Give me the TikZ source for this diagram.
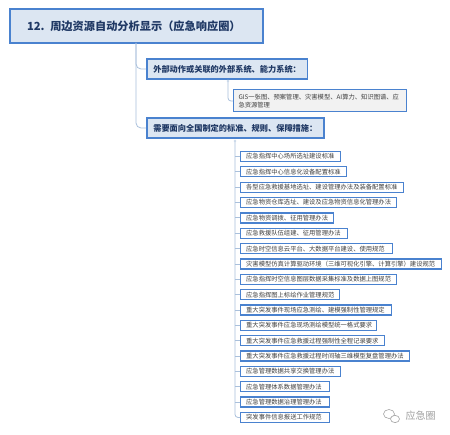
\documentclass[tikz,border=0pt]{standalone}
\usepackage{fontspec}
\setmainfont{Noto Sans CJK SC}
\definecolor{bordblue}{HTML}{4A82CF}
\definecolor{boxfill}{HTML}{DCE6F2}
\definecolor{gisfill}{HTML}{F2F2F2}
\definecolor{navy}{HTML}{1F3864}
\definecolor{conncol}{HTML}{A9C0DC}
\definecolor{leaftext}{HTML}{404040}
\definecolor{wmgray}{HTML}{A0A0A0}
\tikzset{
  titlebox/.style={draw=bordblue, line width=2.2pt, fill=boxfill, text=navy,
    font=\fontsize{11.2}{13}\selectfont\bfseries, inner xsep=17pt, inner ysep=0pt,
    minimum height=34pt, text width=219pt, align=left, anchor=north west},
  lvlbox/.style={draw=bordblue, line width=1.6pt, fill=boxfill, text=navy,
    font=\fontsize{8.2}{10}\selectfont\bfseries, inner xsep=6.5pt, inner ysep=0pt,
    minimum height=20pt, anchor=west},
  gisbox/.style={draw=bordblue, line width=1pt, fill=gisfill, text=leaftext,
    font=\fontsize{6.3}{8.6}\selectfont, inner xsep=5pt, inner ysep=0pt,
    minimum height=22pt, text width=163pt, align=left, anchor=west},
  leafbox/.style={draw=bordblue, line width=1.3pt, fill=white, text=leaftext,
    font=\fontsize{6.3}{7}\selectfont, inner xsep=5.5pt, inner ysep=0pt,
    minimum height=10pt, anchor=west},
  conn/.style={draw=conncol, line width=0.8pt},
  knob/.style={fill=conncol!60},
}
\begin{document}
\begin{tikzpicture}[x=1pt,y=-1pt]
\useasboundingbox (0,0) rectangle (450,435);
\fill[white] (0,0) rectangle (450,435);

\node[titlebox] (title) at (9,8) {12. 周边资源自动分析显示（应急响应圈）};

\node[lvlbox] (a) at (146,69) {外部动作或关联的外部系统、能力系统：};
\node[lvlbox] (b) at (146,128) {需要面向全国制定的标准、规则、保障措施：};

\node[gisbox] (gis) at (233,101) {GIS一张图、预案管理、灾害模型、AI算力、知识图谱、应\\急资源管理};

\foreach \i/\rx/\txt in {
 1/341/应急指挥中心场所选址建设标准,
 2/347/应急指挥中心信息化设备配置标准,
 3/404/各型应急救援基地选址、建设管理办法及装备配置标准,
 4/397/应急物资仓库选址、建设及应急物资信息化管理办法,
 5/334/应急物资调拨、征用管理办法,
 6/348/应急救援队伍组建、征用管理办法,
 7/393/应急时空信息云平台、大数据平台建设、使用规范,
 8/442/灾害模型仿真计算驱动环境（三维可视化引擎、计算引擎）建设规范,
 9/397/应急指挥时空信息图层数据采集标准及数据上图规范,
 10/340/应急指挥图上标绘作业管理规范,
 11/392/重大突发事件现场应急测绘、建模强制性管理规定,
 12/377/重大突发事件应急现场测绘模型统一格式要求,
 13/385/重大突发事件应急救援过程强制性全程记录要求,
 14/410/重大突发事件应急救援过程时间轴三维模型复盘管理办法,
 15/341/应急管理数据共享交换管理办法,
 16/330/应急管理体系数据管理办法,
 17/330/应急管理数据治理管理办法,
 18/330/突发事件信息报送工作规范}{
  \pgfmathsetlengthmacro{\tw}{(\rx-240-12.3)*1pt}
  \node[leafbox] (l\i) at (240,{156.5+15.35*(\i-1)}) {\makebox[\tw][l]{\txt}};
}

% connectors
\coordinate (tr) at (136,43);
\draw[conn, rounded corners=5pt] (tr) |- (a.west);
\draw[conn, rounded corners=5pt] (tr) |- (b.west);

\coordinate (ga) at (228,81);
\draw[conn, rounded corners=3pt] (ga) |- (gis.west);
\fill[knob] (ga) circle (1.4pt);

\coordinate (lt) at (235,141);
\draw[conn, rounded corners=3pt] (lt) |- (l18.west);
\foreach \i in {1,...,17}{
  \draw[conn] (l\i.west -| lt) -- (l\i.west);
}
\fill[knob] (lt) circle (1.4pt);

% watermark
\node[text=wmgray, font=\fontsize{10}{12}\selectfont, anchor=west] (wm) at (402,416) {应急圈};
\draw[wmgray, line width=0.6pt] (389,414) ellipse (5.5pt and 4.5pt);
\draw[wmgray, line width=0.6pt, fill=white] (395,419) ellipse (4.5pt and 3.6pt);
\end{tikzpicture}
\end{document}
